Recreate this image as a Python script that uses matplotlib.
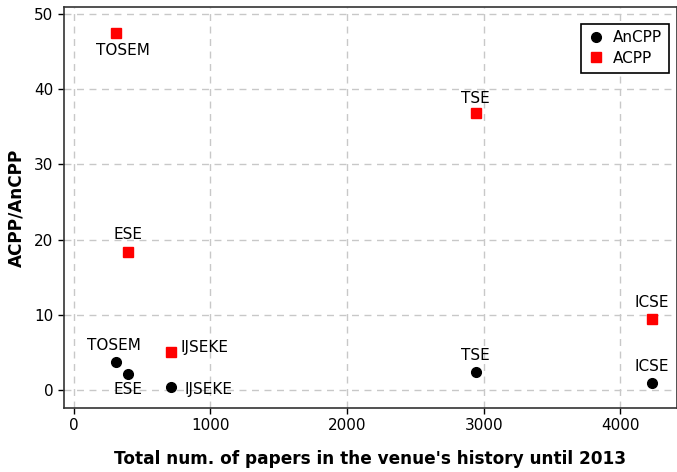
import matplotlib
matplotlib.use("Agg")
import matplotlib.pyplot as plt

venues = ["TOSEM", "ESE", "IJSEKE", "TSE", "ICSE"]
total_papers = [308, 398, 711, 2941, 4232]
acpp = [47.4, 18.4, 5.05, 36.8, 9.5]
ancpp = [3.8, 2.2, 0.5, 2.5, 1.0]

# label offsets in pixels (dx, dy, ha)
off_acpp = {"TOSEM": (7, -17, "center"), "ESE": (0, 17, "center"), "IJSEKE": (10, 5, "left"),
            "TSE": (0, 15, "center"), "ICSE": (0, 16, "center")}
off_ancpp = {"TOSEM": (-2, 16, "center"), "ESE": (0, -16, "center"), "IJSEKE": (14, -3, "left"),
             "TSE": (0, 16, "center"), "ICSE": (0, 16, "center")}

plt.rcParams["font.family"] = ["DejaVu Sans"]

fig = plt.figure(figsize=(6.77, 4.72), dpi=100)
ax = fig.add_axes([0.0945, 0.1362, 0.9055, 0.8488])

ax.grid(True, color="#c8c8c8", linestyle=(0, (5, 4)), linewidth=1)
ax.set_axisbelow(True)

ax.plot(total_papers, ancpp, "o", color="black", markersize=7, linestyle="none", label="AnCPP")
ax.plot(total_papers, acpp, "s", color="red", markersize=7, linestyle="none", label="ACPP")

for v, x, y in zip(venues, total_papers, acpp):
    dx, dy, ha = off_acpp[v]
    ax.annotate(v, (x, y), xytext=(dx, dy), textcoords="offset pixels", ha=ha, va="center", fontsize=11)
for v, x, y in zip(venues, total_papers, ancpp):
    dx, dy, ha = off_ancpp[v]
    ax.annotate(v, (x, y), xytext=(dx, dy), textcoords="offset pixels", ha=ha, va="center", fontsize=11)

ax.set_xlim(-72, 4415)
ax.set_ylim(-2.3, 50.9)
ax.set_xticks([0, 1000, 2000, 3000, 4000])
ax.set_yticks([0, 10, 20, 30, 40, 50])
ax.tick_params(labelsize=11, length=4, width=1)
for s in ax.spines.values():
    s.set_linewidth(1.2)
    s.set_color("#333333")

ax.set_xlabel("Total num. of papers in the venue's history until 2013", fontsize=12.2, fontweight="bold", labelpad=12)
ax.set_ylabel("ACPP/AnCPP", fontsize=12.2, fontweight="bold", labelpad=6)

leg = ax.legend(loc="upper right", fontsize=11, fancybox=False, edgecolor="black",
                framealpha=1, handlelength=1.0, handletextpad=0.6, borderpad=0.45,
                labelspacing=0.35, borderaxespad=0, bbox_to_anchor=(0.9865, 0.959))
leg.get_frame().set_linewidth(1.2)

fig.savefig("out.png", dpi=100)
